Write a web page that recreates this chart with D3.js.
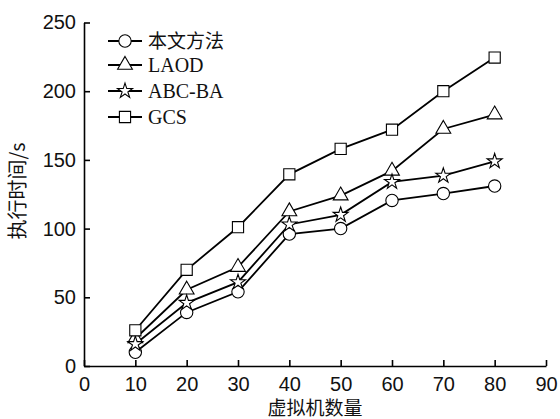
<!DOCTYPE html>
<html>
<head>
<meta charset="utf-8">
<script src="https://cdn.jsdelivr.net/npm/d3@7/dist/d3.min.js"></script>
<style>
  body { margin: 0; background: #fff; }
</style>
</head>
<body>
<div id="viz"></div>
<script>
const vmCounts = [10, 20, 30, 40, 50, 60, 70, 80]
const seriesNames = ["本文方法", "LAOD", "ABC-BA", "GCS"]
const oursValues = [10, 39, 54, 96, 100, 120.5, 125.5, 131]
const laodValues = [20, 55.5, 72, 112.5, 124, 142, 172.5, 183]
const abcbaValues = [16, 46, 61, 103, 110, 134, 138.5, 149]
const gcsValues = [26, 70, 101, 139.5, 158, 172, 200, 224.5]
const xTicks = [0, 10, 20, 30, 40, 50, 60, 70, 80, 90]
const yTicks = [0, 50, 100, 150, 200, 250]

const width = 560
const height = 419

const svg = d3.select("#viz").append("svg")
  .attr("width", width)
  .attr("height", height)

const x = d3.scaleLinear().domain([0, 90]).range([84, 546])
const y = d3.scaleLinear().domain([0, 250]).range([366, 22.5])

const tickFont = "'Liberation Sans', Arial, sans-serif"
const cjkFont = "'Noto Sans CJK SC', sans-serif"

// axes, ticks point inward
const xAxis = svg.append("g")
  .attr("transform", `translate(0,${y(0)})`)
  .call(d3.axisBottom(x).tickValues(xTicks).tickSizeInner(-6).tickSizeOuter(0).tickPadding(11))
const yAxis = svg.append("g")
  .attr("transform", `translate(${x(0)},0)`)
  .call(d3.axisLeft(y).tickValues(yTicks).tickSizeInner(-6).tickSizeOuter(0).tickPadding(8))

svg.selectAll(".domain, .tick line")
  .attr("stroke", "#000")
  .attr("stroke-width", 1.6)
svg.selectAll(".tick text")
  .attr("fill", "#111")
  .attr("font-size", 20)
  .attr("font-family", tickFont)

svg.append("text")
  .attr("x", 315)
  .attr("y", 415)
  .attr("text-anchor", "middle")
  .attr("font-size", 19)
  .attr("font-family", cjkFont)
  .attr("fill", "#111")
  .text("虚拟机数量")

svg.append("text")
  .attr("transform", "translate(25,191) rotate(-90)")
  .attr("text-anchor", "middle")
  .attr("font-size", 20)
  .attr("font-family", cjkFont)
  .attr("fill", "#111")
  .text("执行时间/s")

const series = [
  { name: seriesNames[0], values: oursValues, symbol: d3.symbolCircle, size: 120 },
  { name: seriesNames[1], values: laodValues, symbol: d3.symbolTriangle, size: 95 },
  { name: seriesNames[2], values: abcbaValues, symbol: d3.symbolStar, size: 70 },
  { name: seriesNames[3], values: gcsValues, symbol: d3.symbolSquare, size: 125 }
]

const line = d3.line()
  .x((d, i) => x(vmCounts[i]))
  .y(d => y(d))

series.forEach(s => {
  svg.append("path")
    .attr("d", line(s.values))
    .attr("fill", "none")
    .attr("stroke", "#000")
    .attr("stroke-width", 1.8)
})

series.forEach(s => {
  svg.selectAll(null)
    .data(s.values)
    .enter()
    .append("path")
    .attr("transform", (d, i) => `translate(${x(vmCounts[i])},${y(d)})`)
    .attr("d", d3.symbol().type(s.symbol).size(s.size))
    .attr("fill", "#fff")
    .attr("stroke", "#000")
    .attr("stroke-width", 1.1)
})

// legend
const legendY = [41, 65, 91, 117]
series.forEach((s, i) => {
  const g = svg.append("g").attr("transform", `translate(0,${legendY[i]})`)
  g.append("line")
    .attr("x1", 108).attr("x2", 142)
    .attr("stroke", "#000")
    .attr("stroke-width", 1.8)
  g.append("path")
    .attr("transform", "translate(125,0)")
    .attr("d", d3.symbol().type(s.symbol).size(s.size))
    .attr("fill", "#fff")
    .attr("stroke", "#000")
    .attr("stroke-width", 1.1)
  g.append("text")
    .attr("x", 148)
    .attr("y", 7)
    .attr("font-size", i === 0 ? 19 : 20)
    .attr("font-family", i === 0 ? cjkFont : "'Liberation Serif', 'Times New Roman', serif")
    .attr("fill", "#111")
    .text(s.name)
})
</script>
</body>
</html>
